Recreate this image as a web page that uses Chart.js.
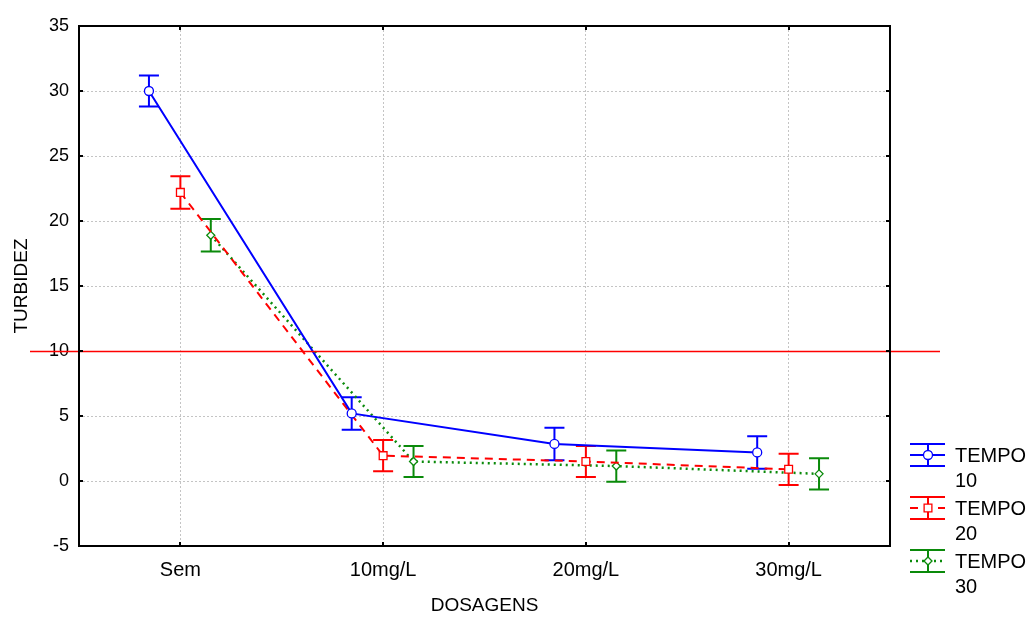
<!DOCTYPE html>
<html>
<head>
<meta charset="utf-8">
<script src="https://cdn.jsdelivr.net/npm/chart.js@4.4.1/dist/chart.umd.min.js"></script>
<style>
  html, body { margin: 0; padding: 0; background: #fff; }
  #wrap { width: 1033px; height: 617px; position: relative; }
</style>
</head>
<body>
<div id="wrap"><canvas id="c" width="1033" height="617"></canvas></div>
<script>
// ---- data ----
const categories = ['Sem', '10mg/L', '20mg/L', '30mg/L'];
const seriesNames = ['TEMPO\n10', 'TEMPO\n20', 'TEMPO\n30'];
const tempo10 = [30.0, 5.2, 2.85, 2.2];
const tempo10Err = [1.2, 1.25, 1.25, 1.25];
const tempo20 = [22.2, 1.95, 1.5, 0.9];
const tempo20Err = [1.25, 1.2, 1.2, 1.2];
const tempo30 = [18.9, 1.5, 1.15, 0.55];
const tempo30Err = [1.25, 1.2, 1.2, 1.2];
const yTicks = [-5, 0, 5, 10, 15, 20, 25, 30, 35];
const referenceLine = 10;
const xAxisTitle = 'DOSAGENS';
const yAxisTitle = 'TURBIDEZ';

// ---- styles ----
const colors = ['#0000ff', '#ff0000', '#0a8a0a'];
const offsets = [-0.155, 0, 0.15];
const values = [tempo10, tempo20, tempo30];
const errs = [tempo10Err, tempo20Err, tempo30Err];
const dashes = [[], [8, 6], [2, 4]];
const widths = [2, 2, 2.5];
const pStyles = ['circle', 'rect', 'rectRot'];
const pRadius = [4.5, 5.5, 4];
const FONT = "'Liberation Sans', Arial, sans-serif";

const datasets = values.map((vals, s) => ({
  label: seriesNames[s],
  data: vals.map((v, i) => ({ x: i + offsets[s], y: v, e: errs[s][i] })),
  borderColor: colors[s],
  backgroundColor: '#ffffff',
  borderWidth: widths[s],
  borderDash: dashes[s],
  pointStyle: pStyles[s],
  pointRadius: pRadius[s],
  pointBorderWidth: 1.3,
  pointBorderColor: colors[s],
  pointBackgroundColor: '#ffffff',
  tension: 0,
  fill: false
}));

const errorBars = {
  id: 'errorBars',
  beforeDatasetsDraw(chart) {
    const ctx = chart.ctx, y = chart.scales.y;
    chart.data.datasets.forEach((ds, s) => {
      const meta = chart.getDatasetMeta(s);
      ctx.save();
      ctx.strokeStyle = colors[s];
      ctx.lineWidth = 2;
      ctx.setLineDash([]);
      meta.data.forEach((pt, i) => {
        const d = ds.data[i];
        const top = y.getPixelForValue(d.y + d.e);
        const bot = y.getPixelForValue(d.y - d.e);
        const px = pt.x, cap = 10;
        ctx.beginPath();
        ctx.moveTo(px, top); ctx.lineTo(px, bot);
        ctx.moveTo(px - cap, top); ctx.lineTo(px + cap, top);
        ctx.moveTo(px - cap, bot); ctx.lineTo(px + cap, bot);
        ctx.stroke();
      });
      ctx.restore();
    });
  }
};

const frame = {
  id: 'frame',
  afterDraw(chart) {
    const ctx = chart.ctx, a = chart.chartArea, x = chart.scales.x, y = chart.scales.y;
    ctx.save();
    // reference line
    const ry = Math.round(y.getPixelForValue(referenceLine)) + 0.5;
    ctx.strokeStyle = '#ff0000';
    ctx.lineWidth = 1.5;
    ctx.beginPath(); ctx.moveTo(30, ry); ctx.lineTo(940, ry); ctx.stroke();
    // frame
    ctx.strokeStyle = '#000';
    ctx.lineWidth = 2;
    ctx.strokeRect(a.left, a.top, a.right - a.left, a.bottom - a.top);
    // inward ticks
    ctx.lineWidth = 2;
    ctx.beginPath();
    yTicks.forEach(v => {
      const py = Math.round(y.getPixelForValue(v));
      ctx.moveTo(a.left, py); ctx.lineTo(a.left + 4, py);
      ctx.moveTo(a.right, py); ctx.lineTo(a.right - 4, py);
    });
    categories.forEach((c, i) => {
      const px = Math.round(x.getPixelForValue(i));
      ctx.moveTo(px, a.bottom); ctx.lineTo(px, a.bottom - 4);
      ctx.moveTo(px, a.top); ctx.lineTo(px, a.top + 4);
    });
    ctx.stroke();
    // legend
    const rows = [455, 508, 561];
    const lx1 = 910, lx2 = 945, lxm = 928;
    rows.forEach((cy, s) => {
      ctx.strokeStyle = colors[s];
      ctx.lineWidth = 2;
      ctx.setLineDash([]);
      ctx.beginPath();
      ctx.moveTo(lxm, cy - 11); ctx.lineTo(lxm, cy + 11);
      ctx.moveTo(lx1, cy - 11); ctx.lineTo(lx2, cy - 11);
      ctx.moveTo(lx1, cy + 11); ctx.lineTo(lx2, cy + 11);
      ctx.stroke();
      ctx.lineWidth = widths[s];
      ctx.setLineDash(dashes[s]);
      ctx.beginPath();
      ctx.moveTo(lx1, cy); ctx.lineTo(lx2, cy);
      ctx.stroke();
      ctx.setLineDash([]);
      ctx.fillStyle = '#fff';
      ctx.lineWidth = 1.3;
      Chart.helpers.drawPoint(ctx, { pointStyle: pStyles[s], radius: pRadius[s], rotation: 0, borderWidth: 1.3 }, lxm, cy);
      ctx.fillStyle = '#000';
      ctx.font = '20px ' + FONT;
      ctx.textBaseline = 'middle';
      ctx.textAlign = 'left';
      const lines = seriesNames[s].split('\n');
      ctx.fillText(lines[0], 955, cy + 1);
      ctx.fillText(lines[1], 955, cy + 26);
    });
    ctx.restore();
  }
};

new Chart(document.getElementById('c'), {
  type: 'line',
  data: { datasets },
  plugins: [errorBars, frame],
  options: {
    responsive: false,
    animation: false,
    devicePixelRatio: 1,
    layout: { padding: { left: 0, top: 26, right: 143, bottom: 0 } },
    plugins: { legend: { display: false }, tooltip: { enabled: false } },
    scales: {
      x: {
        type: 'linear',
        min: -0.5, max: 3.5,
        afterBuildTicks(scale) { scale.ticks = categories.map((c, i) => ({ value: i })); },
        afterFit(scale) { scale.height = 71; },
        ticks: {
          callback: (v) => categories[v],
          font: { family: FONT, size: 20 },
          color: '#000',
          padding: 12
        },
        grid: { color: '#c4c4c4', drawTicks: false, lineWidth: 1 },
        border: { display: false, dash: [2, 2] },
        title: { display: true, text: xAxisTitle, font: { family: FONT, size: 19 }, color: '#000', padding: { top: 14, bottom: 0 } }
      },
      y: {
        min: -5, max: 35,
        afterBuildTicks(scale) { scale.ticks = yTicks.map(v => ({ value: v })); },
        afterFit(scale) { scale.width = 79; },
        ticks: {
          font: { family: FONT, size: 18 },
          color: '#000',
          padding: 10
        },
        grid: { color: '#c4c4c4', drawTicks: false, lineWidth: 1 },
        border: { display: false, dash: [2, 2] },
        title: { display: true, text: yAxisTitle, font: { family: FONT, size: 19 }, color: '#000', padding: { top: 10, bottom: 0 } }
      }
    }
  }
});
</script>
</body>
</html>
